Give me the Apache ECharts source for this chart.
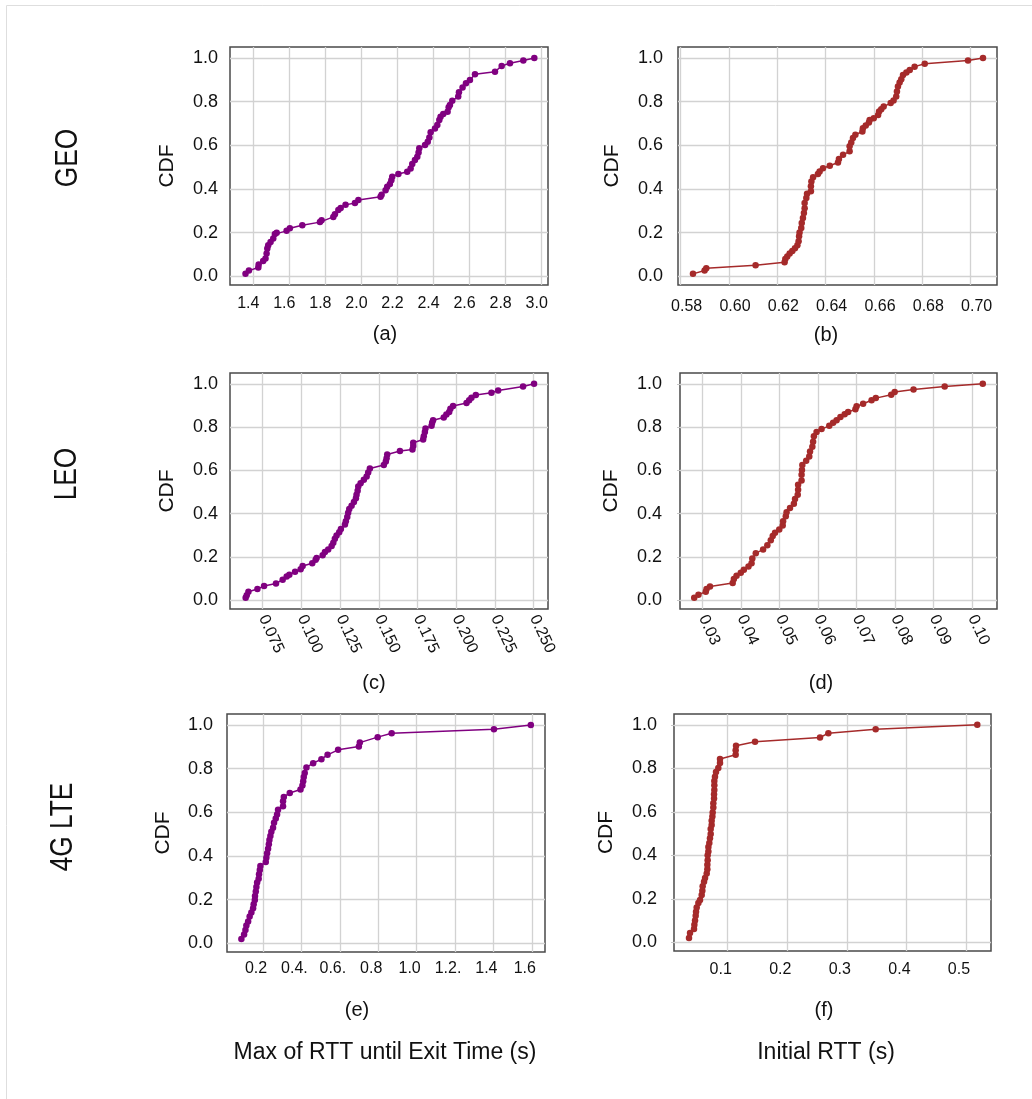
<!DOCTYPE html>
<html>
<head>
<meta charset="utf-8">
<script src="https://cdn.jsdelivr.net/npm/echarts@6/dist/echarts.min.js"></script>
<style>
  html, body { margin: 0; padding: 0; background: #ffffff; }
  #chart { width: 1032px; height: 1099px; }
</style>
</head>
<body>
<div id="chart"></div>
<script>
// ---- CDF samples: x = latency (s), y = cumulative fraction ----
// GEO, max RTT until exit time
const geoMaxRtt = [1.357,1.376,1.428,1.430,1.455,1.468,1.474,1.478,1.483,1.496,1.511,1.520,1.530,1.585,1.603,1.672,1.770,1.779,1.844,1.853,1.872,1.885,1.912,1.964,1.983,2.106,2.112,2.134,2.143,2.158,2.166,2.171,2.205,2.254,2.273,2.282,2.297,2.310,2.317,2.321,2.353,2.368,2.377,2.384,2.408,2.421,2.432,2.439,2.454,2.478,2.484,2.491,2.504,2.537,2.541,2.561,2.580,2.602,2.630,2.741,2.778,2.824,2.898,2.959];
const geoMaxCdf = [0.012,0.026,0.040,0.054,0.070,0.081,0.104,0.127,0.142,0.157,0.173,0.193,0.199,0.208,0.220,0.234,0.248,0.257,0.272,0.284,0.303,0.313,0.327,0.336,0.349,0.364,0.373,0.394,0.410,0.422,0.440,0.456,0.468,0.479,0.494,0.514,0.532,0.547,0.567,0.586,0.601,0.616,0.636,0.659,0.677,0.693,0.716,0.731,0.743,0.754,0.774,0.784,0.804,0.823,0.843,0.865,0.884,0.899,0.925,0.937,0.963,0.976,0.988,1.000];

// GEO, initial RTT
const geoInitRtt = [0.5851,0.5899,0.5906,0.611,0.623,0.6233,0.6241,0.6251,0.6262,0.6273,0.6283,0.6288,0.629,0.6292,0.6299,0.6301,0.6306,0.631,0.6313,0.6313,0.632,0.6323,0.6339,0.6339,0.6341,0.6348,0.6368,0.6375,0.6389,0.6417,0.6451,0.6455,0.6472,0.6499,0.6499,0.6506,0.6513,0.6523,0.6552,0.6554,0.6566,0.6579,0.6582,0.6599,0.6617,0.6621,0.663,0.664,0.6669,0.6681,0.6692,0.6695,0.6699,0.6706,0.6713,0.672,0.6734,0.6748,0.6768,0.681,0.6989,0.7051];
const geoInitCdf = [0.011,0.026,0.037,0.05,0.064,0.079,0.091,0.104,0.116,0.128,0.142,0.16,0.183,0.201,0.221,0.244,0.267,0.29,0.312,0.335,0.358,0.378,0.389,0.412,0.434,0.453,0.468,0.48,0.495,0.506,0.521,0.537,0.556,0.572,0.595,0.613,0.633,0.648,0.663,0.678,0.691,0.704,0.716,0.724,0.739,0.755,0.765,0.777,0.793,0.805,0.823,0.846,0.869,0.887,0.902,0.922,0.933,0.945,0.96,0.973,0.988,1.0];

// LEO, max RTT until exit time
const leoMaxRtt = [0.064,0.0647,0.0658,0.0716,0.0759,0.0836,0.0879,0.0905,0.0922,0.0959,0.0995,0.1008,0.107,0.1092,0.1098,0.1137,0.1152,0.1173,0.1195,0.1206,0.1216,0.1227,0.1244,0.1255,0.1281,0.1287,0.1296,0.1302,0.1309,0.1324,0.1339,0.1352,0.1356,0.1363,0.1367,0.1382,0.1403,0.1421,0.1431,0.1442,0.1532,0.1545,0.155,0.1554,0.1636,0.1717,0.1722,0.1722,0.1786,0.179,0.1797,0.1801,0.184,0.1844,0.185,0.1919,0.1936,0.1954,0.1962,0.1979,0.2066,0.2083,0.2098,0.2126,0.2227,0.227,0.2431,0.2502];
const leoMaxCdf = [0.012,0.024,0.04,0.052,0.066,0.078,0.095,0.11,0.118,0.132,0.144,0.159,0.171,0.187,0.196,0.208,0.223,0.235,0.251,0.266,0.284,0.30,0.315,0.33,0.35,0.365,0.385,0.404,0.422,0.437,0.454,0.472,0.488,0.506,0.526,0.541,0.557,0.572,0.59,0.609,0.625,0.641,0.656,0.674,0.69,0.697,0.713,0.728,0.743,0.758,0.778,0.794,0.806,0.82,0.832,0.844,0.858,0.87,0.885,0.898,0.911,0.924,0.936,0.948,0.959,0.969,0.988,1.0];

// LEO, initial RTT
const leoInitRtt = [0.0278,0.0289,0.0308,0.031,0.0319,0.0378,0.0381,0.0388,0.0399,0.0407,0.0419,0.0427,0.0429,0.0438,0.0457,0.0468,0.0477,0.0482,0.0488,0.0499,0.0508,0.0509,0.0516,0.0518,0.0527,0.0537,0.054,0.0547,0.0548,0.0548,0.0557,0.0557,0.0558,0.0559,0.0569,0.0577,0.0579,0.0585,0.0587,0.0589,0.0596,0.0609,0.0629,0.0639,0.0648,0.0658,0.0669,0.0678,0.0697,0.07,0.0717,0.0739,0.075,0.079,0.0799,0.0848,0.0929,0.1028];
const leoInitCdf = [0.012,0.026,0.04,0.052,0.064,0.08,0.098,0.113,0.128,0.141,0.156,0.171,0.193,0.217,0.235,0.254,0.277,0.297,0.312,0.327,0.346,0.365,0.388,0.407,0.427,0.446,0.468,0.488,0.511,0.534,0.554,0.58,0.602,0.625,0.645,0.664,0.687,0.709,0.732,0.758,0.778,0.791,0.806,0.82,0.832,0.847,0.859,0.87,0.882,0.896,0.908,0.924,0.934,0.95,0.962,0.974,0.988,1.0];

// 4G LTE, max RTT until exit time
const lteMaxRtt = [0.087,0.101,0.108,0.113,0.122,0.13,0.139,0.148,0.151,0.157,0.158,0.162,0.165,0.169,0.177,0.179,0.183,0.186,0.214,0.217,0.221,0.226,0.23,0.233,0.238,0.243,0.252,0.257,0.266,0.273,0.278,0.304,0.304,0.308,0.339,0.395,0.405,0.409,0.412,0.417,0.426,0.461,0.504,0.536,0.591,0.699,0.704,0.797,0.87,1.403,1.595];
const lteMaxCdf = [0.02,0.04,0.061,0.081,0.10,0.123,0.141,0.16,0.179,0.198,0.217,0.237,0.258,0.278,0.296,0.316,0.336,0.354,0.372,0.392,0.412,0.433,0.453,0.473,0.491,0.511,0.529,0.552,0.571,0.59,0.612,0.628,0.65,0.67,0.688,0.704,0.722,0.742,0.761,0.78,0.805,0.825,0.843,0.863,0.886,0.901,0.919,0.944,0.962,0.98,1.0];

// 4G LTE, initial RTT
const lteInitRtt = [0.0351,0.0368,0.0435,0.0441,0.0452,0.0463,0.0469,0.048,0.0508,0.0536,0.0564,0.0575,0.058,0.0603,0.062,0.0648,0.0659,0.0659,0.0664,0.0664,0.0676,0.0676,0.0692,0.0703,0.0715,0.0715,0.0731,0.0731,0.0743,0.0748,0.0759,0.0759,0.0771,0.0771,0.0776,0.0776,0.0776,0.0787,0.0804,0.0843,0.0871,0.0871,0.1134,0.1134,0.114,0.1459,0.255,0.269,0.3484,0.519];
const lteInitCdf = [0.02,0.043,0.061,0.081,0.10,0.122,0.141,0.16,0.181,0.195,0.217,0.237,0.258,0.278,0.296,0.316,0.336,0.357,0.377,0.40,0.418,0.438,0.457,0.479,0.498,0.521,0.54,0.559,0.579,0.597,0.62,0.64,0.661,0.681,0.70,0.722,0.742,0.761,0.783,0.802,0.825,0.843,0.863,0.883,0.904,0.922,0.942,0.962,0.98,1.0];

// ---- tick values and labels ----
const cdfTicks = [0, 0.2, 0.4, 0.6, 0.8, 1.0];
const cdfTickLabels = ['0.0', '0.2', '0.4', '0.6', '0.8', '1.0'];
const ticksA = [1.4, 1.6, 1.8, 2.0, 2.2, 2.4, 2.6, 2.8, 3.0];
const tickLabelsA = ['1.4', '1.6', '1.8', '2.0', '2.2', '2.4', '2.6', '2.8', '3.0'];
const ticksB = [0.58, 0.60, 0.62, 0.64, 0.66, 0.68, 0.70];
const tickLabelsB = ['0.58', '0.60', '0.62', '0.64', '0.66', '0.68', '0.70'];
const ticksC = [0.075, 0.100, 0.125, 0.150, 0.175, 0.200, 0.225, 0.250];
const tickLabelsC = ['0.075', '0.100', '0.125', '0.150', '0.175', '0.200', '0.225', '0.250'];
const ticksD = [0.03, 0.04, 0.05, 0.06, 0.07, 0.08, 0.09, 0.10];
const tickLabelsD = ['0.03', '0.04', '0.05', '0.06', '0.07', '0.08', '0.09', '0.10'];
const ticksE = [0.2, 0.4, 0.6, 0.8, 1.0, 1.2, 1.4, 1.6];
const tickLabelsE = ['0.2', '0.4.', '0.6.', '0.8', '1.0', '1.2.', '1.4', '1.6'];
const ticksF = [0.1, 0.2, 0.3, 0.4, 0.5];
const tickLabelsF = ['0.1', '0.2', '0.3', '0.4', '0.5'];

// ---- text ----
const rowTitles = ['GEO', 'LEO', '4G LTE'];
const panelTags = ['(a)', '(b)', '(c)', '(d)', '(e)', '(f)'];
const columnTitles = ['Max of RTT until Exit Time (s)', 'Initial RTT (s)'];

const PURPLE = '#800080';
const BROWN = '#a52a2a';
const FONT = "'Liberation Sans', Arial, Helvetica, sans-serif";

function pairs(xs, ys) { return xs.map((x, i) => [x, ys[i]]); }
function labelFor(ticks, labels) {
  return v => {
    const i = ticks.findIndex(t => Math.abs(t - v) < 1e-9);
    return i >= 0 ? labels[i] : '';
  };
}

// layout of each panel: plot box in px, x range, label placement
const panels = [
  { xs: geoMaxRtt,  ys: geoMaxCdf,  color: PURPLE, ticks: ticksA, labels: tickLabelsA,
    box: [230, 47, 318, 238], xmin: 1.271, xmax: 3.035, xMargin: 11, xPad: [0, 10, 0, 0], yMargin: 12, nameGap: 52 },
  { xs: geoInitRtt, ys: geoInitCdf, color: BROWN,  ticks: ticksB, labels: tickLabelsB,
    box: [678, 47, 319, 238], xmin: 0.5789, xmax: 0.7109, xMargin: 14, xPad: [0, 0, 0, 12], yMargin: 15, nameGap: 55 },
  { xs: leoMaxRtt,  ys: leoMaxCdf,  color: PURPLE, ticks: ticksC, labels: tickLabelsC,
    box: [230, 373, 318, 236], xmin: 0.0539, xmax: 0.2592, xMargin: 7, rotate: -65, yMargin: 12, nameGap: 52 },
  { xs: leoInitRtt, ys: leoInitCdf, color: BROWN,  ticks: ticksD, labels: tickLabelsD,
    box: [680, 373, 317, 236], xmin: 0.0241, xmax: 0.1065, xMargin: 7, rotate: -65, yMargin: 18, nameGap: 58, yTicks: true },
  { xs: lteMaxRtt,  ys: lteMaxCdf,  color: PURPLE, ticks: ticksE, labels: tickLabelsE,
    box: [227, 714, 318, 238], xmin: 0.012, xmax: 1.669, xMargin: 9, xPad: [0, 14, 0, 0], yMargin: 14, nameGap: 53 },
  { xs: lteInitRtt, ys: lteInitCdf, color: BROWN,  ticks: ticksF, labels: tickLabelsF,
    box: [674, 714, 317, 237], xmin: 0.0099, xmax: 0.542, xMargin: 11, xPad: [0, 14, 0, 0], yMargin: 17, nameGap: 57, yTicks: true }
];

const grids = [], xAxes = [], yAxes = [], series = [];
panels.forEach((p, i) => {
  grids.push({
    left: p.box[0], top: p.box[1], width: p.box[2], height: p.box[3],
    show: true, borderColor: '#4a4a4a', borderWidth: 1.5, backgroundColor: 'transparent',
    containLabel: false, outerBoundsMode: 'none'
  });
  xAxes.push({
    type: 'value', gridIndex: i, min: p.xmin, max: p.xmax,
    axisLine: { show: false },
    axisTick: { show: false, customValues: p.ticks },
    axisLabel: {
      customValues: p.ticks, formatter: labelFor(p.ticks, p.labels),
      fontFamily: FONT, fontSize: 16, color: '#111', margin: p.xMargin,
      rotate: p.rotate || 0, padding: p.xPad || 0
    },
    splitLine: { show: true, lineStyle: { color: '#d2d2d2', width: 1.3 } }
  });
  yAxes.push({
    type: 'value', gridIndex: i, min: -0.04, max: 1.05,
    name: 'CDF', nameLocation: 'middle', nameGap: p.nameGap,
    nameTextStyle: { fontFamily: FONT, fontSize: 21, color: '#111' },
    axisLine: { show: false },
    axisTick: { show: !!p.yTicks, customValues: cdfTicks, length: 3, inside: false,
                lineStyle: { color: '#c8c8c8', width: 1 } },
    axisLabel: {
      customValues: cdfTicks, formatter: labelFor(cdfTicks, cdfTickLabels),
      fontFamily: FONT, fontSize: 18, color: '#111', margin: p.yMargin
    },
    splitLine: { show: true, lineStyle: { color: '#d2d2d2', width: 1.3 } }
  });
  series.push({
    type: 'line', xAxisIndex: i, yAxisIndex: i,
    data: pairs(p.xs, p.ys),
    symbol: 'circle', symbolSize: 6.5, showSymbol: true, clip: false,
    lineStyle: { color: p.color, width: 1.5 },
    itemStyle: { color: p.color },
    emphasis: { disabled: true },
    z: 3
  });
});

function text(str, x, y, size, opts) {
  return Object.assign({
    type: 'text', x: x, y: y, silent: true,
    style: { text: str, fontFamily: FONT, fontSize: size, fill: '#111',
             align: 'center', verticalAlign: 'middle' }
  }, opts || {});
}

// row titles are set upright-rotated and a little condensed along the reading direction
const rowTitleOpts = { rotation: Math.PI / 2, scaleX: 0.82 };

const graphic = [
  // thin frame along the top and left
  { type: 'line', silent: true, shape: { x1: 6.5, y1: 5.5, x2: 1032, y2: 5.5 },
    style: { stroke: '#dedede', lineWidth: 1 } },
  { type: 'line', silent: true, shape: { x1: 6.5, y1: 5.5, x2: 6.5, y2: 1099 },
    style: { stroke: '#dedede', lineWidth: 1 } },
  // row titles
  text(rowTitles[0], 68, 158, 32, rowTitleOpts),
  text(rowTitles[1], 67, 474, 32, rowTitleOpts),
  text(rowTitles[2], 63, 827, 32, rowTitleOpts),
  // panel tags
  text(panelTags[0], 385, 334, 20),
  text(panelTags[1], 826, 335, 20),
  text(panelTags[2], 374, 683, 20),
  text(panelTags[3], 821, 683, 20),
  text(panelTags[4], 357, 1010, 20),
  text(panelTags[5], 824, 1010, 20),
  // column titles
  text(columnTitles[0], 385, 1053, 23),
  text(columnTitles[1], 826, 1053, 23)
];

const chart = echarts.init(document.getElementById('chart'), null, { renderer: 'canvas' });
chart.setOption({
  backgroundColor: '#ffffff',
  animation: false,
  grid: grids,
  xAxis: xAxes,
  yAxis: yAxes,
  series: series,
  graphic: graphic
});
</script>
</body>
</html>
